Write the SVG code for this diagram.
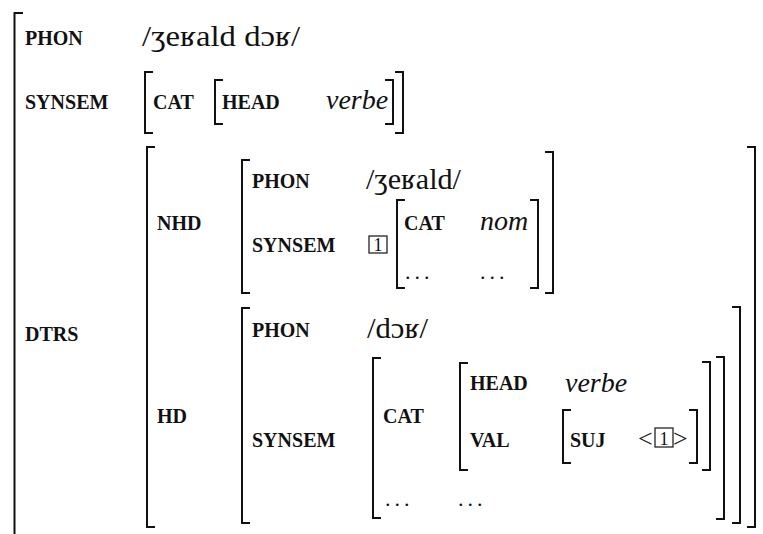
<svg xmlns="http://www.w3.org/2000/svg" width="763" height="534" viewBox="0 0 763 534">
<style>
text{font-family:'Liberation Serif','DejaVu Serif','Times New Roman',Times,serif;fill:#111}
.br{fill:none;stroke:#111;stroke-width:2}
.lb{font-size:20px;font-weight:bold}
.v{font-size:29px}
.it{font-size:28px;font-style:italic}
.dots{font-size:22px;letter-spacing:4px}
.box{fill:none;stroke:#111;stroke-width:1.2}
.num{font-size:18px;text-anchor:middle}
.ang{font-size:26px}
</style>
<rect width="763" height="534" fill="#fff"/>
<g id="brackets">
<path class="br" d="M23,13H14.5V540"/>
<path class="br" d="M153,72H145V133H153"/>
<path class="br" d="M223,80H215V124H223"/>
<path class="br" d="M385,80H393V124H385"/>
<path class="br" d="M395,72H403V133H395"/>
<path class="br" d="M155,147H147V527H155"/>
<path class="br" d="M250,160H242V293H250"/>
<path class="br" d="M405,200H397V288H405"/>
<path class="br" d="M530,200H538V288H530"/>
<path class="br" d="M545,152H553V293H545"/>
<path class="br" d="M250,308H242V523H250"/>
<path class="br" d="M381,358H373V518H381"/>
<path class="br" d="M468,363H460V470H468"/>
<path class="br" d="M571,410H563V463H571"/>
<path class="br" d="M689,410H697V463H689"/>
<path class="br" d="M702,362H710V470H702"/>
<path class="br" d="M716,357H724V519H716"/>
<path class="br" d="M732,307H740V523H732"/>
<path class="br" d="M747,147H755V527H747"/>
</g>
<g id="root">
<text class="lb" x="25" y="45">PHON</text>
<text class="v" x="142" y="46" textLength="158" lengthAdjust="spacingAndGlyphs">/ʒeʁald dɔʁ/</text>
<text class="lb" x="25" y="109">SYNSEM</text>
<text class="lb" x="153" y="109">CAT</text>
<text class="lb" x="222" y="109">HEAD</text>
<text class="it" x="326" y="109">verbe</text>
<text class="lb" x="25" y="341">DTRS</text>
</g>
<g id="nhd">
<text class="lb" x="157" y="230">NHD</text>
<text class="lb" x="252" y="188">PHON</text>
<text class="v" x="366" y="189" textLength="95" lengthAdjust="spacingAndGlyphs">/ʒeʁald/</text>
<text class="lb" x="252" y="252">SYNSEM</text>
<rect class="box" x="369" y="236" width="18" height="17"/>
<text class="num" x="378" y="251">1</text>
<text class="lb" x="404" y="230">CAT</text>
<text class="it" x="480" y="230">nom</text>
<text class="dots" x="405" y="279">...</text>
<text class="dots" x="480" y="279">...</text>
</g>
<g id="hd">
<text class="lb" x="157" y="423">HD</text>
<text class="lb" x="252" y="337">PHON</text>
<text class="v" x="367" y="338" textLength="61" lengthAdjust="spacingAndGlyphs">/dɔʁ/</text>
<text class="lb" x="252" y="447">SYNSEM</text>
<text class="lb" x="383" y="423">CAT</text>
<text class="lb" x="470" y="390">HEAD</text>
<text class="it" x="565" y="392">verbe</text>
<text class="lb" x="470" y="447">VAL</text>
<text class="lb" x="570" y="447">SUJ</text>
<text class="ang" x="638" y="447">&lt;</text>
<rect class="box" x="655" y="428" width="18" height="19"/>
<text class="num" x="664" y="445">1</text>
<text class="ang" x="673" y="447">&gt;</text>
<text class="dots" x="385" y="506">...</text>
<text class="dots" x="458" y="506">...</text>
</g>
</svg>
